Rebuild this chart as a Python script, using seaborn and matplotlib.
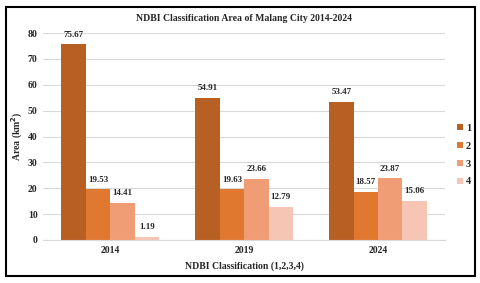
import matplotlib
matplotlib.use('Agg')
import matplotlib.pyplot as plt
from matplotlib.patches import Rectangle
import seaborn as sns
import pandas as pd

years = ['2014', '2019', '2024']
classes = ['1', '2', '3', '4']
class1 = [75.67, 54.91, 53.47]
class2 = [19.53, 19.63, 18.57]
class3 = [14.41, 23.66, 23.87]
class4 = [1.19, 12.79, 15.06]
colors = ['#B85F24', '#E07830', '#F09C74', '#F6C5B3']

rows = []
for cls, vals in zip(classes, [class1, class2, class3, class4]):
    for yr, v in zip(years, vals):
        rows.append({'year': yr, 'cls': cls, 'area': v})
df = pd.DataFrame(rows)

sns.set_style('white')
plt.rcParams['font.family'] = ['Liberation Serif', 'DejaVu Serif']
plt.rcParams['font.weight'] = 'bold'

fig = plt.figure(figsize=(4.8, 2.83), dpi=100)
ax = fig.add_axes([0.09, 0.152, 0.837, 0.731])
sns.barplot(data=df, x='year', y='area', hue='cls', palette=colors,
            width=0.73, saturation=1, ax=ax, order=years, hue_order=classes,
            linewidth=0)

for cont in ax.containers:
    ax.bar_label(cont, fmt='%.2f', padding=4, fontsize=6.5, fontweight='bold')

ax.set_ylim(0, 80)
ax.set_xlim(-0.5, 2.5)
ax.set_yticks(range(0, 81, 10))
ax.yaxis.grid(True, color='#D9D9D9', linewidth=0.8)
ax.set_axisbelow(True)
for s in ['top', 'right', 'left']:
    ax.spines[s].set_visible(False)
ax.spines['bottom'].set_color('#D9D9D9')
ax.tick_params(axis='both', length=0, labelsize=7, pad=4)
for t in ax.get_xticklabels() + ax.get_yticklabels():
    t.set_fontweight('bold')

ax.set_xlabel('NDBI Classification (1,2,3,4)', fontsize=7, fontweight='bold', labelpad=5)
ax.set_ylabel('Area (km$^\\mathbf{2}$)', fontsize=7, fontweight='bold', labelpad=2)
ax.set_title('NDBI Classification Area of Malang City 2014-2024', fontsize=7,
             fontweight='bold', pad=9)

leg = ax.legend(loc='center left', bbox_to_anchor=(1.0, 0.41), frameon=False,
                borderaxespad=0.8, fontsize=7.5, handlelength=0.5, handleheight=0.5,
                handletextpad=0.3, labelspacing=0.85)
for t in leg.get_texts():
    t.set_fontweight('bold')

fig.add_artist(Rectangle((6 / 480, 7 / 283), 469 / 480, 269 / 283,
                         transform=fig.transFigure, fill=False,
                         edgecolor='black', linewidth=1.5))

fig.savefig('out.png', dpi=100)
